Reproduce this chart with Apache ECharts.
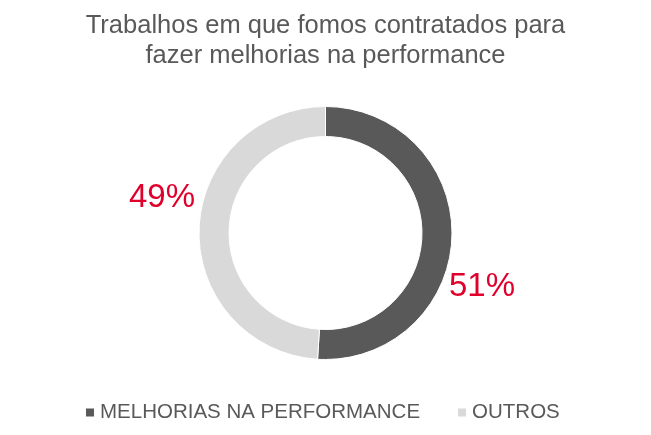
<!DOCTYPE html>
<html>
<head>
<meta charset="utf-8">
<script src="https://cdn.jsdelivr.net/npm/echarts@6/dist/echarts.min.js"></script>
<style>html,body{margin:0;padding:0;background:#fff}#c{width:651px;height:435px}</style>
</head>
<body>
<div id="c"></div>
<script>
var titleText = 'Trabalhos em que fomos contratados para\nfazer melhorias na performance';
var categories = ['MELHORIAS NA PERFORMANCE', 'OUTROS'];
var values = [51, 49];
var colors = ['#595959', '#D9D9D9'];
var labelPos = [[482, 287], [162, 198]];

var chart = echarts.init(document.getElementById('c'), null, {renderer: 'canvas'});
chart.setOption({
  animation: false,
  backgroundColor: '#fff',
  title: {
    text: titleText,
    left: 'center',
    top: 6,
    textStyle: {fontFamily: 'Liberation Sans', fontSize: 25.5, fontWeight: 'normal', color: '#595959', lineHeight: 30}
  },
  legend: {
    top: 397,
    left: 79,
    itemWidth: 10,
    itemHeight: 10,
    itemGap: 36,
    icon: 'rect',
    textStyle: {fontFamily: 'Liberation Sans', fontSize: 20.5, color: '#595959'},
    data: categories
  },
  series: [{
    type: 'pie',
    center: [325.5, 233],
    radius: [96.5, 126.5],
    startAngle: 90,
    clockwise: true,
    avoidLabelOverlap: false,
    itemStyle: {borderColor: '#fff', borderWidth: 1},
    label: {
      show: true,
      position: 'outside',
      formatter: '{d}%',
      fontFamily: 'Liberation Sans',
      fontSize: 33,
      color: '#E0002B'
    },
    labelLine: {show: false},
    labelLayout: function (p) {
      var pos = labelPos[p.dataIndex];
      return {x: pos[0], y: pos[1], align: 'center', verticalAlign: 'middle'};
    },
    emphasis: {disabled: true},
    data: categories.map(function (c, i) {
      return {name: c, value: values[i], itemStyle: {color: colors[i]}};
    })
  }]
});
</script>
</body>
</html>
